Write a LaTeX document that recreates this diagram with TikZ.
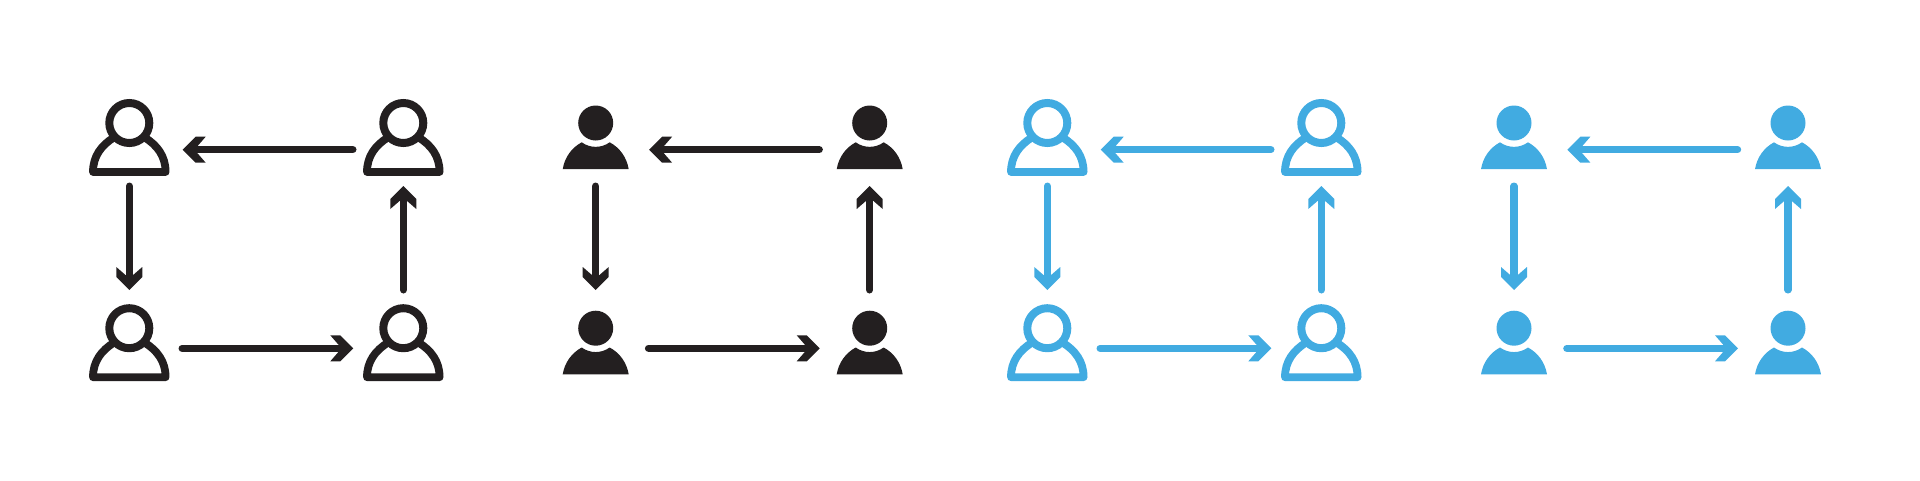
\documentclass[tikz,border=0pt]{standalone}
\usetikzlibrary{arrows.meta,positioning}

\definecolor{inkblack}{HTML}{231F20}
\definecolor{skyblue}{HTML}{41ABE1}

\pgfdeclarearrow{
  name=ChevTip,
  setup code={
    \pgfarrowssettipend{0pt}
    \pgfarrowssetlineend{-10pt}
    \pgfarrowssetvisualbackend{-11.7pt}
    \pgfarrowssetbackend{-23pt}
  },
  drawing code={
    \pgfpathmoveto{\pgfpoint{0pt}{0pt}}
    \pgfpathlineto{\pgfpoint{-13pt}{13pt}}
    \pgfpathlineto{\pgfpoint{-23pt}{13pt}}
    \pgfpathlineto{\pgfpoint{-11.7pt}{0pt}}
    \pgfpathlineto{\pgfpoint{-23pt}{-13pt}}
    \pgfpathlineto{\pgfpoint{-13pt}{-13pt}}
    \pgfpathclose
    \pgfusepathqfill
  }
}

\tikzset{
  person/.style={minimum width=80pt,minimum height=76.4pt,inner sep=0pt,outer sep=0pt},
  flow/.style={line width=7.4pt,line cap=round,-ChevTip},
  personline/.pic={
    \draw[line width=7.8pt,line join=round] (-36.3,34.8) .. controls (-36.3,19) and (-28,8) .. (-15,0)
      -- (15,0) .. controls (28,8) and (36.3,19) .. (36.3,34.8) -- cycle;
    \draw[line width=8pt,fill=white] (0,-14.2) circle[radius=20pt];
  },
  personfill/.pic={
    \fill (0,-14.2) circle[radius=17.5pt];
    \fill (-33,32) .. controls (-31,20) and (-24,10.5) .. (-14,5.1)
      arc[start angle=234,end angle=306,radius=23.8pt]
      .. controls (24,10.5) and (31,20) .. (33,32) -- cycle;
  }
}

\begin{document}
\begin{tikzpicture}[x=1pt,y=-1pt]
\useasboundingbox (0,0) rectangle (1920,480);
\foreach \i/\x/\kind/\col in {1/129.3/personline/inkblack,2/595.7/personfill/inkblack,
    3/1047.3/personline/skyblue,4/1514/personfill/skyblue}{
  \begin{scope}[color=\col]
  \node[person] (tl\i) at (\x,137.2) {};
  \node[person] (tr\i) at (\x+274,137.2) {};
  \node[person] (bl\i) at (\x,342.4) {};
  \node[person] (br\i) at (\x+274,342.4) {};
  \foreach \p in {tl,tr,bl,br}
    \pic at (\p\i) {\kind};
  % round the square
  \draw[flow,shorten <=10.5pt,shorten >=13.4pt] ([yshift=-12.5pt]tr\i.west) -- ([yshift=-12.5pt]tl\i.east);
  \draw[flow,shorten <=10.8pt,shorten >=14.2pt] (tl\i.south) -- (bl\i.north);
  \draw[flow,shorten <=12.9pt,shorten >=10pt] ([yshift=-5.9pt]bl\i.east) -- ([yshift=-5.9pt]br\i.west);
  \draw[flow,shorten <=14.4pt,shorten >=10.6pt] (br\i.north) -- (tr\i.south);
  \end{scope}
}
\end{tikzpicture}
\end{document}
